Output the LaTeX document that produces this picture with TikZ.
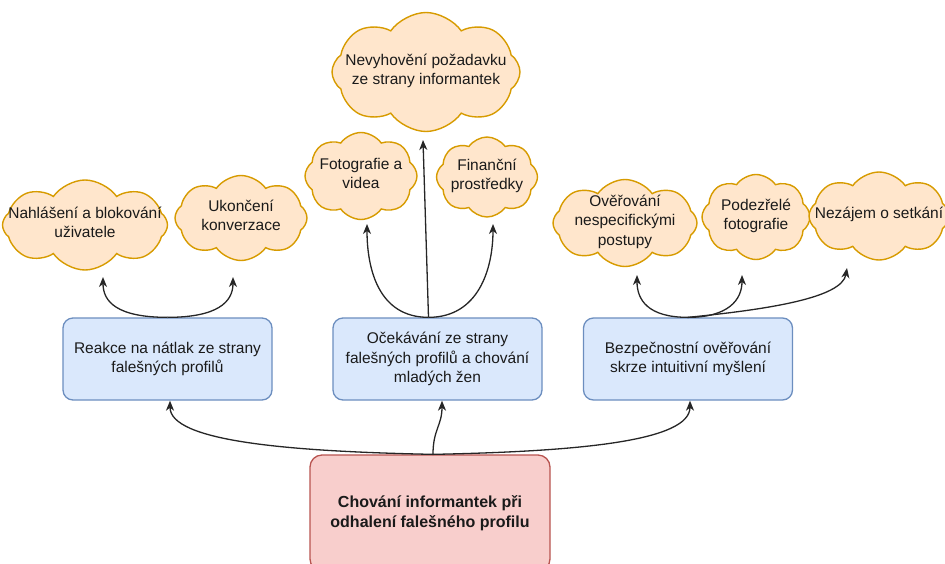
\documentclass[tikz,border=0pt]{standalone}
\usepackage{fontspec}
\setmainfont{Liberation Sans}
\usetikzlibrary{shapes.symbols,arrows.meta}
\definecolor{bfill}{HTML}{DAE8FC}
\definecolor{bline}{HTML}{6C8EBF}
\definecolor{cfill}{HTML}{FFE6CC}
\definecolor{cline}{HTML}{D79B00}
\definecolor{rfill}{HTML}{F8CECC}
\definecolor{rline}{HTML}{B85450}
\definecolor{txt}{HTML}{1A1A1A}
\newcommand{\cloudtxt}[1]{\smash{\makebox[0pt]{\raisebox{-2.5pt}{\begin{tabular}{@{}c@{}}#1\end{tabular}}}}}
\tikzset{
  cloudbox/.style={cloud, cloud puffs=8, cloud puff arc=110, cloud ignores aspect,
    draw=cline, fill=cfill, line width=1.4pt, inner sep=0pt, text=txt,
    font=\fontsize{15.5}{19.5}\selectfont},
  bluebox/.style={rectangle, rounded corners=10pt, draw=bline, fill=bfill, line width=1.3pt,
    minimum width=209pt, minimum height=82pt, align=center, text=txt,
    font=\fontsize{15.5}{19.5}\selectfont},
  rootbox/.style={rectangle, rounded corners=12pt, draw=rline, fill=rfill, line width=1.3pt,
    minimum width=240pt, minimum height=116pt, align=center, text=txt,
    font=\fontsize{16}{20}\selectfont\bfseries},
  arr/.style={line width=1.3pt, draw=black!85, -{Stealth[length=10pt,width=8pt,inset=3pt]}}
}
\begin{document}
\begin{tikzpicture}[x=1pt,y=-1pt]
\useasboundingbox (0,0) rectangle (945,563);
\clip (0,0) rectangle (945,563);
% root
\node[rootbox] (root) at (430,513) {Chování informantek při\\odhalení falešného profilu};
% blue boxes
\node[bluebox] (b1) at (167.5,359) {Reakce na nátlak ze strany\\falešných profilů};
\node[bluebox] (b2) at (437.5,359) {Očekávání ze strany\\falešných profilů a chování\\mladých žen};
\node[bluebox] (b3) at (688,359) {Bezpečnostní ověřování\\skrze intuitivní myšlení};
% clouds
\node[cloudbox, minimum width=165pt, minimum height=90pt] (n1) at (85,225) {\cloudtxt{Nahlášení a blokování\\uživatele}};
\node[cloudbox, minimum width=132pt, minimum height=85pt] (n2) at (241,218) {\cloudtxt{Ukončení\\konverzace}};
\node[cloudbox, minimum width=188pt, minimum height=119pt] (n3) at (426,72) {\cloudtxt{Nevyhovění požadavku\\ze strany informantek}};
\node[cloudbox, minimum width=112pt, minimum height=87pt] (n4) at (361,176) {\cloudtxt{Fotografie a\\videa}};
\node[cloudbox, minimum width=101pt, minimum height=80pt] (n5) at (487,177) {\cloudtxt{Finanční\\prostředky}};
\node[cloudbox, minimum width=144pt, minimum height=87pt] (n6) at (625,223) {\cloudtxt{Ověřování\\nespecifickými\\postupy}};
\node[cloudbox, minimum width=108pt, minimum height=85pt] (n7) at (756,217) {\cloudtxt{Podezřelé\\fotografie}};
\node[cloudbox, minimum width=140pt, minimum height=88pt] (n8) at (879,216) {\cloudtxt{Nezájem o setkání}};
% connectors from root
\draw[arr] ([xshift=3pt]root.north) .. controls +(-150,-3) and +(0,40) .. ([xshift=2.5pt]b1.south);
\draw[arr] ([xshift=3pt]root.north) .. controls +(0,-25) and +(0,25) .. ([xshift=4.5pt]b2.south);
\draw[arr] ([xshift=3pt]root.north) .. controls +(150,-3) and +(0,40) .. ([xshift=2pt]b3.south);
% from b1
\draw[arr] (b1.north) .. controls +(-50,0) and +(0,25) .. ([shift={(18,52)}]n1.center);
\draw[arr] (b1.north) .. controls +(50,0) and +(0,25) .. ([shift={(-8,59)}]n2.center);
% from b2
\draw[arr] ([xshift=-9pt]b2.north) .. controls +(-50,0) and +(0,45) .. ([shift={(6,48)}]n4.center);
\draw[arr] ([xshift=-9pt]b2.north) -- ([shift={(-3,68)}]n3.center);
\draw[arr] ([xshift=-9pt]b2.north) .. controls +(50,0) and +(0,45) .. ([shift={(6,47)}]n5.center);
% from b3
\draw[arr] (b3.north) .. controls +(-40,0) and +(0,25) .. ([shift={(12,52)}]n6.center);
\draw[arr] (b3.north) .. controls +(40,0) and +(0,25) .. ([shift={(-14,58)}]n7.center);
\draw[arr] (b3.north) .. controls +(80,-8) and +(-5,30) .. ([shift={(-32,52)}]n8.center);
\end{tikzpicture}
\end{document}
